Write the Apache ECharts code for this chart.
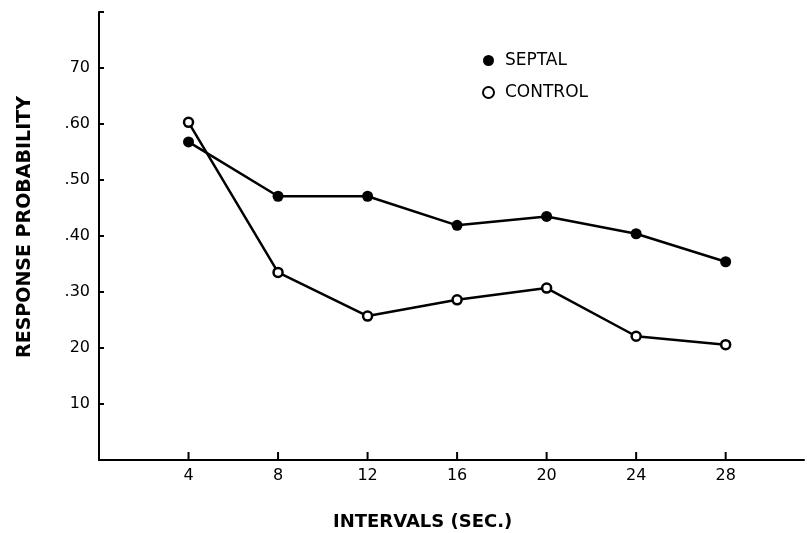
<!DOCTYPE html>
<html>
<head>
<meta charset="utf-8">
<script src="https://cdn.jsdelivr.net/npm/echarts@6/dist/echarts.min.js"></script>
<style>html,body{margin:0;padding:0;background:#fff;}#c{width:807px;height:533px;}</style>
</head>
<body>
<div id="c"></div>
<script>
var intervals = [4, 8, 12, 16, 20, 24, 28];
var septal = [0.568, 0.471, 0.471, 0.419, 0.435, 0.404, 0.354];
var control = [0.603, 0.335, 0.257, 0.286, 0.307, 0.221, 0.206];
var yTickLabels = ['', '10', '20', '.30', '.40', '.50', '.60', '70'];
var xTickLabels = ['4', '8', '12', '16', '20', '24', '28'];
var xTitle = 'INTERVALS (SEC.)';
var yTitle = 'RESPONSE PROBABILITY';

function pairs(xs, ys) { return xs.map(function (x, i) { return [x, ys[i]]; }); }

var chart = echarts.init(document.getElementById('c'), null, { renderer: 'canvas' });
var F = 'DejaVu Sans';
chart.setOption({
  backgroundColor: '#fff',
  animation: false,
  grid: { left: 99, right: 0, top: 12, bottom: 73, containLabel: false },
  legend: {
    orient: 'vertical', left: 477, top: 47, itemGap: 15,
    icon: 'circle', itemWidth: 11, itemHeight: 11,
    textStyle: { fontFamily: F, fontSize: 17, color: '#000', padding: [0, 0, 0, 6] },
    data: ['SEPTAL', 'CONTROL']
  },
  graphic: [{
    type: 'text', left: 333, top: 513,
    style: { text: xTitle, fontFamily: F, fontSize: 18, fontWeight: 'bold', fill: '#000' }
  }],
  xAxis: {
    type: 'value', min: 0, max: 31.5, interval: 4,
    axisLine: { onZero: false, lineStyle: { color: '#000', width: 2 } },
    axisTick: { show: false },
    splitLine: { show: false },
    axisLabel: {
      fontFamily: F, fontSize: 16, color: '#000', margin: 8,
      formatter: function (v) { var i = intervals.indexOf(v); return i >= 0 ? xTickLabels[i] : ''; }
    }
  },
  yAxis: {
    type: 'value', min: 0, max: 0.8, interval: 0.1, offset: 2,
    name: yTitle, nameLocation: 'middle', nameGap: 62,
    nameTextStyle: { fontFamily: F, fontSize: 19, fontWeight: 'bold', color: '#000', padding: [0, 0, 0, 18] },
    axisLine: { lineStyle: { color: '#000', width: 2 } },
    axisTick: { inside: true, length: 5, lineStyle: { color: '#000', width: 2 } },
    splitLine: { show: false },
    axisLabel: {
      fontFamily: F, fontSize: 16, color: '#000', margin: 7,
      formatter: function (v) { var i = Math.round(v * 10); return yTickLabels[i] || ''; }
    }
  },
  series: [
    {
      name: 'xticks', type: 'custom', silent: true, clip: false, z: 5,
      data: intervals.map(function (x) { return [x, 0]; }),
      renderItem: function (params, api) {
        var p = api.coord([api.value(0), 0]);
        return {
          type: 'line',
          shape: { x1: p[0], y1: p[1], x2: p[0], y2: p[1] - 8 },
          style: { stroke: '#000', lineWidth: 2 }
        };
      }
    },
    {
      name: 'SEPTAL', type: 'line', data: pairs(intervals, septal),
      symbol: 'circle', symbolSize: 11,
      lineStyle: { color: '#000', width: 2.5 },
      itemStyle: { color: '#000', borderColor: '#000', borderWidth: 0 }
    },
    {
      name: 'CONTROL', type: 'line', data: pairs(intervals, control),
      symbol: 'circle', symbolSize: 9,
      lineStyle: { color: '#000', width: 2.5 },
      itemStyle: { color: '#fff', borderColor: '#000', borderWidth: 2.5 }
    }
  ]
});
</script>
</body>
</html>
